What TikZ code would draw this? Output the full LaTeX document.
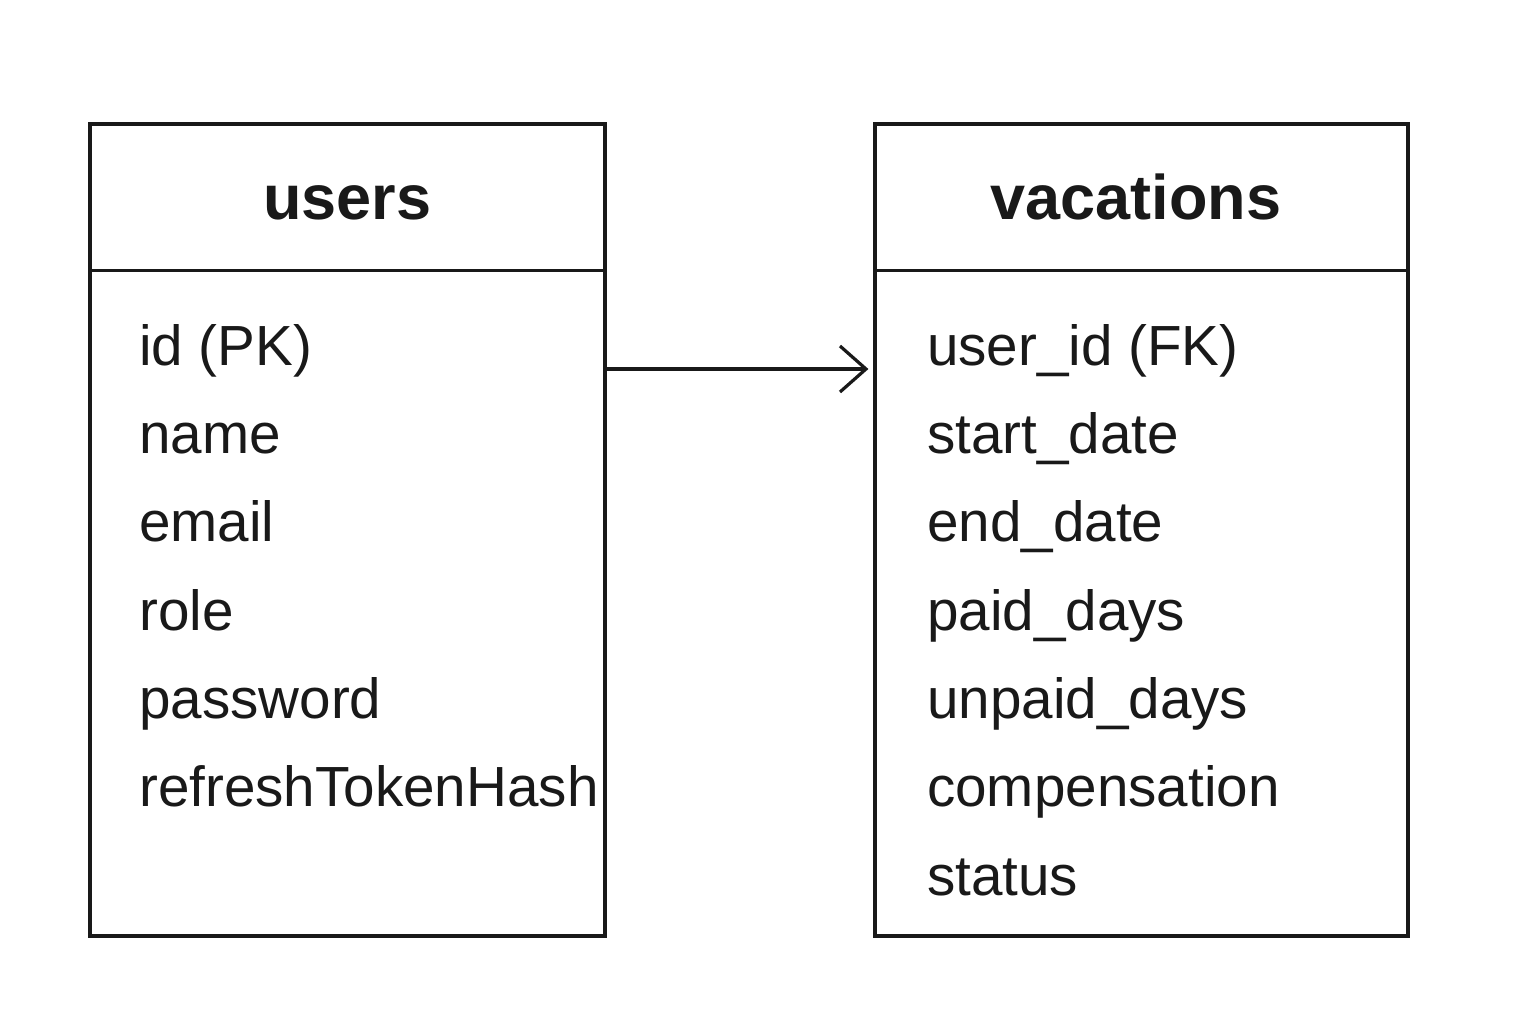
\documentclass[tikz,border=0pt]{standalone}
\usepackage{fontspec}
\setmainfont{Liberation Sans}
\usetikzlibrary{arrows.meta}
\begin{document}
\begin{tikzpicture}[x=1pt,y=-1pt,
  tablebox/.style={draw=black!90, line width=3.2pt, inner sep=0pt, minimum width=#1, minimum height=812pt},
  divider/.style={draw=black!90, line width=3.2pt},
  title/.style={anchor=base, inner sep=0pt, font=\fontsize{63}{70}\selectfont\bfseries, text=black!90},
  field/.style={anchor=base west, inner sep=0pt, font=\fontsize{56.6}{64}\selectfont, text=black!90},
  link/.style={draw=black!90, line width=3.2pt, -{Straight Barb[length=26pt,width=46pt,line width=3.2pt]}}
]
\useasboundingbox (0,0) rectangle (1536,1024);
\fill[white] (0,0) rectangle (1536,1024);

% users table
\node[tablebox=515pt] (ubox) at (347.5,530) {};
\coordinate (uhl) at (90,270.5);
\coordinate (uhr) at (605,270.5);
\draw[divider] (uhl) -- (uhr);
\node[title] (utitle) at (347.5,220) {users};
\node[field] (u1) at (139,365) {id (PK)};
\node[field] (u2) at (139,453) {name};
\node[field] (u3) at (139,541) {email};
\node[field] (u4) at (139,630) {role};
\node[field] (u5) at (139,718) {password};
\node[field] (u6) at (139,806) {refreshTokenHash};

% vacations table
\node[tablebox=533pt] (vbox) at (1141.5,530) {};
\coordinate (vhl) at (875,270.5);
\coordinate (vhr) at (1408,270.5);
\draw[divider] (vhl) -- (vhr);
\node[title] (vtitle) at (1136,220) {vacations};
\node[field] (v1) at (927,365) {user\_id (FK)};
\node[field] (v2) at (927,453) {start\_date};
\node[field] (v3) at (927,541) {end\_date};
\node[field] (v4) at (927,630) {paid\_days};
\node[field] (v5) at (927,718) {unpaid\_days};
\node[field] (v6) at (927,806) {compensation};
\node[field] (v7) at (927,895) {status};

% relation
\coordinate (arrowy) at (0,369);
\draw[link, shorten >=5pt] (ubox.east |- arrowy) -- (vbox.west |- arrowy);
\end{tikzpicture}
\end{document}
